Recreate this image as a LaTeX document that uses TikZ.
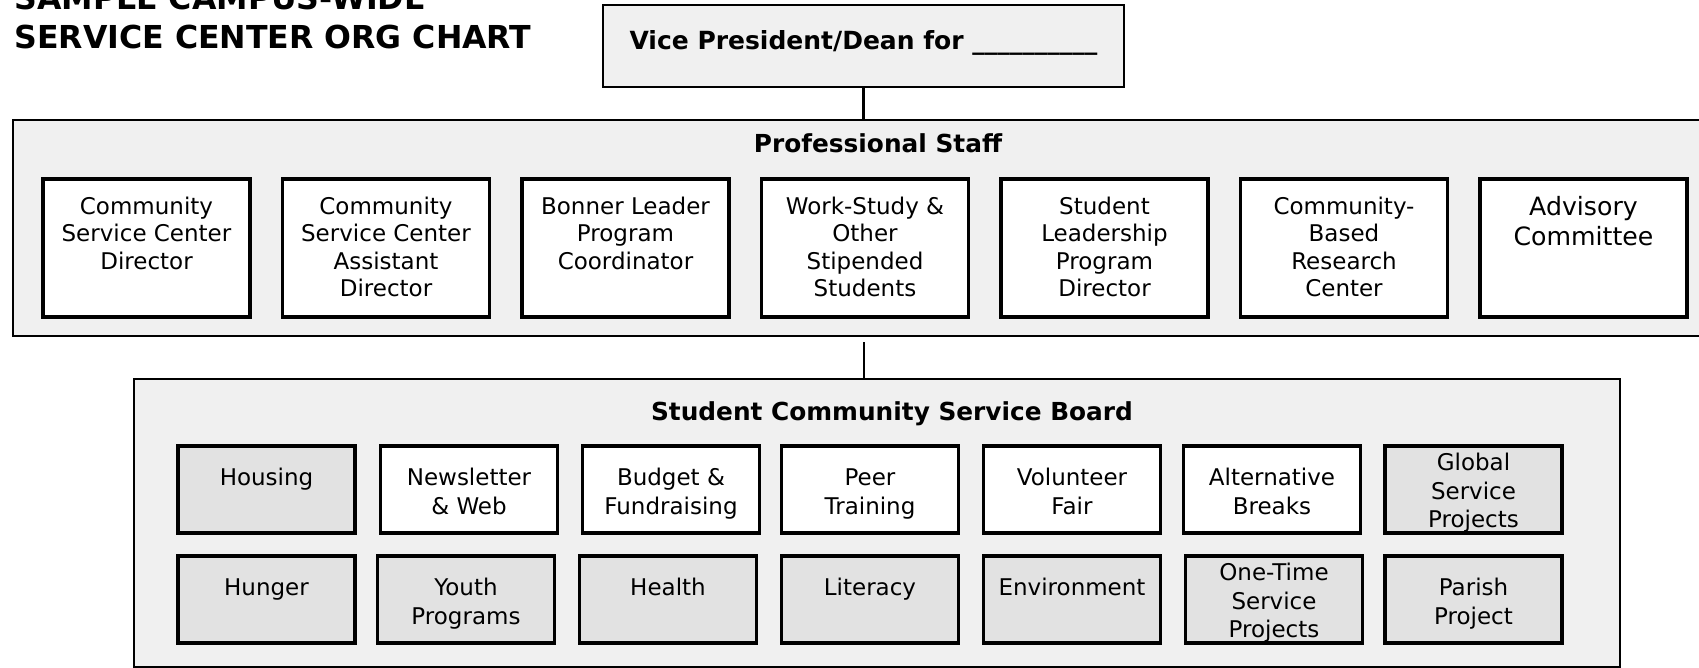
\documentclass[tikz,border=0pt]{standalone}
\usepackage{fontspec}
\setmainfont{DejaVu Sans}
\usetikzlibrary{positioning}
\definecolor{paneGrey}{HTML}{F0F0F0}
\definecolor{topicGrey}{HTML}{E2E2E2}
\newcommand{\Unit}[6][0pt]{\node [#3] at (#5) (#2) {};
  \node [#4, yshift=#1] at (#2.north) {\strut #6};}

\begin{document}
\begin{tikzpicture}
[x=0.5pt, y=-0.5pt,
 pane/.style={draw, line width=1.4pt, fill=paneGrey, inner sep=0pt},
 post/.style={draw, line width=1.6pt, fill=white, minimum width=103.5pt, minimum height=69pt, inner sep=0pt},
 topic/.style={draw, line width=1.6pt, fill=topicGrey, minimum width=88.5pt, minimum height=43.5pt, inner sep=0pt},
 plain/.style={topic, fill=white},
 posttext/.style={anchor=north, inner sep=0pt, align=center, yshift=-8.5pt, font=\fontsize{11.5}{13.8}\selectfont},
 bigtext/.style={posttext, font=\fontsize{12.6}{15}\selectfont},
 topictext/.style={posttext, yshift=-2pt, font=\fontsize{11.5}{14.2}\selectfont},
 head/.style={font=\bfseries\fontsize{12.4}{14}\selectfont, inner sep=0pt, anchor=base},
 link/.style={line width=1.4pt}]

\clip (0,0) rectangle (1699,668);

% title, cut at the top edge
\node [anchor=south west, inner sep=0pt, align=left, font=\bfseries\fontsize{15.8}{19.5}\selectfont] (title) at (14,49) {SAMPLE CAMPUS-WIDE\\SERVICE CENTER ORG CHART};

\node [pane, minimum width=260.5pt, minimum height=41pt, text depth=5.5pt, font=\bfseries\fontsize{12.5}{14}\selectfont] (vp) at (863.5,46) {Vice President/Dean for \_\_\_\_\_\_\_\_\_\_};

% professional staff
\node [pane, minimum width=851pt, minimum height=108pt] (staff) at (864,228) {};
\node [head] (stafftitle) at (878,153) {Professional Staff};

\Unit{dir}{post}{posttext}{146.5,248}{Community\\Service Center\\Director}
\Unit{asst}{post}{posttext}{386,248}{Community\\Service Center\\Assistant\\Director}
\Unit{bonner}{post}{posttext}{625.5,248}{Bonner Leader\\Program\\Coordinator}
\Unit{workstudy}{post}{posttext}{865,248}{Work-Study \&\\Other\\Stipended\\Students}
\Unit{leader}{post}{posttext}{1104.5,248}{Student\\Leadership\\Program\\Director}
\Unit{cbr}{post}{posttext}{1344,248}{Community-\\Based\\Research\\Center}
\Unit{advisory}{post}{bigtext}{1583.5,248}{Advisory\\Committee}

% student board
\node [pane, minimum width=743pt, minimum height=144pt] (board) at (877,523) {};
\node [head] (boardtitle) at (892,421) {Student Community Service Board};

\Unit{housing}{topic}{topictext}{266.5,489.5}{Housing}
\Unit{news}{plain}{topictext}{469,489.5}{Newsletter\\\& Web}
\Unit{budget}{plain}{topictext}{671,489.5}{Budget \&\\Fundraising}
\Unit{peer}{plain}{topictext}{870,489.5}{Peer\\Training}
\Unit{fair}{plain}{topictext}{1072,489.5}{Volunteer\\Fair}
\Unit{breaks}{plain}{topictext}{1272,489.5}{Alternative\\Breaks}
\Unit[7.5pt]{global}{topic}{topictext}{1473.5,489.5}{Global\\Service\\Projects}

\Unit{hunger}{topic}{topictext}{266.5,599.5}{Hunger}
\Unit{youth}{topic}{topictext}{466,599.5}{Youth\\Programs}
\Unit{health}{topic}{topictext}{668,599.5}{Health}
\Unit{literacy}{topic}{topictext}{870,599.5}{Literacy}
\Unit{env}{topic}{topictext}{1072,599.5}{Environment}
\Unit[7.5pt]{onetime}{topic}{topictext}{1274,599.5}{One-Time\\Service\\Projects}
\Unit{parish}{topic}{topictext}{1473.5,599.5}{Parish\\Project}

\draw [link] (vp.south) -- (vp.south |- staff.north);
\draw [link, shorten <=2.5pt] (staff.south) -- (staff.south |- board.north);
\end{tikzpicture}
\end{document}
